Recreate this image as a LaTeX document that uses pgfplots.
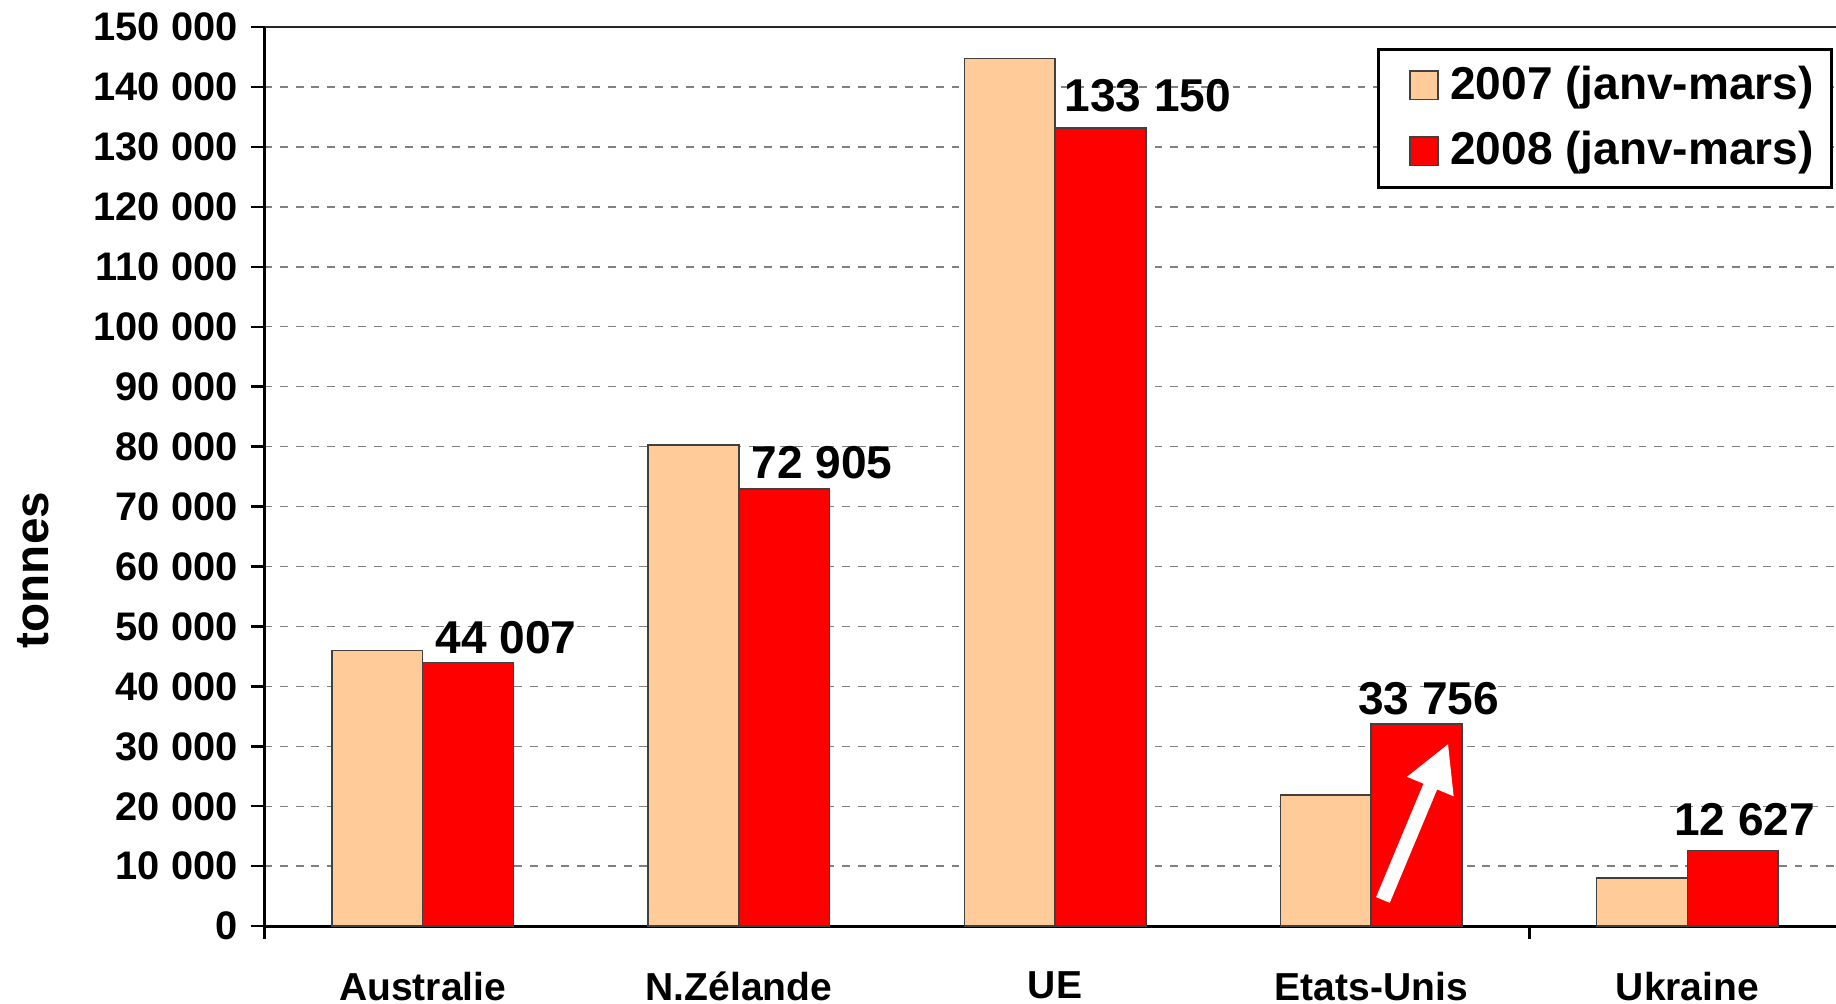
\documentclass[border=0pt]{standalone}
\usepackage{pgfplots}
\pgfplotsset{compat=1.18}
\usepackage{fontspec}
\setmainfont{Liberation Sans}
\usetikzlibrary{arrows.meta}
\definecolor{peach}{HTML}{FFCC99}
\definecolor{edge}{HTML}{404040}

\begin{document}
\begin{tikzpicture}
\begin{axis}[
  scale only axis, width=402.6pt, height=230.4pt,
  ybar=0pt, bar width=23.25pt,
  xmin=-0.5, xmax=4.47, ymin=0, ymax=150000,
  axis x line*=bottom, axis y line*=left,
  axis line style={-, line width=0.8pt, black},
  xtick={-0.5,3.5}, xticklabels={},
  extra x ticks={0,1,2,3,4},
  extra x tick labels={Australie,N.Zélande,UE,Etats-Unis,Ukraine},
  extra x tick style={major tick length=0pt, xticklabel style={yshift=-8.2pt, font=\bfseries\fontsize{10}{12}\selectfont}},
  ytick={0,10000,...,150000},
  yticklabels={0,10 000,20 000,30 000,40 000,50 000,60 000,70 000,80 000,90 000,100 000,110 000,120 000,130 000,140 000,150 000},
  scaled y ticks=false,
  tick align=outside, major tick length=3.4pt,
  tick style={black, line width=0.6pt},
  ymajorgrids,
  grid style={gray, line width=0.4pt, dash pattern=on 2pt off 2pt},
  ticklabel style={font=\bfseries\fontsize{10.2}{12}\selectfont},
  ylabel={tonnes},
  ylabel style={at={(axis description cs:-0.1475,0.396)}, anchor=center, font=\bfseries\fontsize{12.2}{14}\selectfont},
  legend image code/.code={\path (-5.3pt,-8.25pt) (8.1pt,8.25pt); \draw[#1, draw=edge, line width=0.4pt] (0pt,-3.6pt) rectangle (7.2pt,3.6pt);},
  legend style={at={(rel axis cs:0.998,0.977)}, anchor=north east, draw=black, line width=0.8pt,
    font=\bfseries\fontsize{11.8}{14}\selectfont, inner xsep=2.5pt, inner ysep=0.8pt, row sep=0pt,
    nodes={inner ysep=0pt}},
]
\addplot[fill=peach, draw=edge, line width=0.4pt] coordinates {(0,46000) (1,80300) (2,144700) (3,21900) (4,8000)};
\addplot[fill=red, draw=edge, line width=0.4pt] coordinates {(0,44007) (1,72905) (2,133150) (3,33756) (4,12627)};
\legend{2007 (janv-mars),2008 (janv-mars)}
\draw[black!85, line width=0.7pt] (rel axis cs:0,1) -- (rel axis cs:1,1);
\draw[white, line width=3.8pt, -{Triangle[width=12pt,length=12pt]}] (axis cs:3.037,4375) -- (axis cs:3.244,30500);
\begin{scope}[every node/.style={font=\bfseries\fontsize{11.8}{14}\selectfont, anchor=center}]
\node at (axis cs:0.263,48050) {44 007};
\node at (axis cs:1.263,77340) {72 905};
\node at (axis cs:2.293,138500) {133 150};
\node at (axis cs:3.181,37900) {33 756};
\node at (axis cs:4.181,17800) {12 627};
\end{scope}
\coordinate (ll) at (rel axis cs:0,0);
\coordinate (ur) at (rel axis cs:1,1);
\end{axis}
\pgfresetboundingbox
\path ([shift={(-67.8pt,-19.8pt)}]ll) rectangle ([shift={(0pt,6.9pt)}]ur);
\end{tikzpicture}
\end{document}
